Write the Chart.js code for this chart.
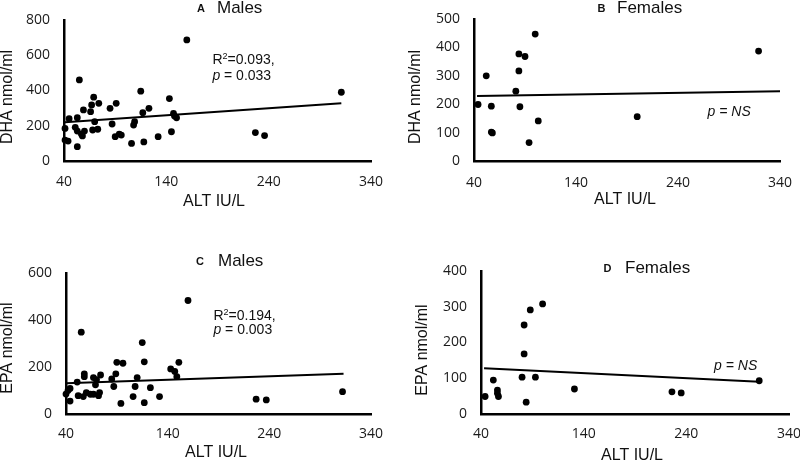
<!DOCTYPE html>
<html>
<head>
<meta charset="utf-8">
<script src="https://cdn.jsdelivr.net/npm/chart.js@4"></script>
<style>
  html, body { margin: 0; padding: 0; background: #fff; }
  #wrap { position: relative; width: 800px; height: 460px; background: #fff; overflow: hidden; }
  canvas { position: absolute; }
</style>
</head>
<body>
<div id="wrap">
  <canvas id="cA" width="400" height="230" style="left:0;top:0"></canvas>
  <canvas id="cB" width="400" height="230" style="left:400px;top:0"></canvas>
  <canvas id="cC" width="400" height="230" style="left:0;top:230px"></canvas>
  <canvas id="cD" width="400" height="230" style="left:400px;top:230px"></canvas>
</div>
<script>
// ---------- DATA ----------
// Panel A: Males, DHA vs ALT
const maleDhaALT = [41,41,44,45,51,53,53,53,55,57,58,59,60,66,67,68,69,70,73,74,85,87,90,91,94,96,106,108,109,115,117,118,123,132,143,145,147,148,150,160,227,236,311];
const maleDHA    = [185,119,113,240,191,170,246,81,460,153,142,290,170,280,318,176,362,223,180,327,299,210,138,327,153,147,100,204,223,396,274,108,299,138,354,166,270,255,245,687,161,144,390];
const maleDhaTrendALT = [41, 311];
const maleDhaTrend    = [220, 328];

// Panel B: Females, DHA vs ALT
const femaleDhaALT = [44,52,57,57,58,81,84,84,85,90,94,100,103,200,319];
const femaleDHA    = [199,300,193,102,99,246,317,377,191,368,65,447,141,156,387];
const femaleDhaTrendALT = [43, 340];
const femaleDhaTrend    = [229, 246];

// Panel C: Males, EPA vs ALT
const maleEpaALT = [40,42,44,44,51,52,55,57,58,58,60,64,67,67,69,70,72,73,74,85,87,89,90,94,96,106,108,110,115,117,117,123,132,143,147,149,151,160,227,237,312];
const maleEPA    = [85,100,109,55,136,78,348,74,171,159,91,84,155,84,124,146,78,91,166,149,117,171,220,45,216,74,117,155,304,222,48,112,74,192,181,159,220,483,63,60,95];
const maleEpaTrendALT = [40, 313];
const maleEpaTrend    = [131, 171];

// Panel D: Females, EPA vs ALT
const femaleEpaALT = [44,52,56,56,57,80,82,82,84,88,93,100,131,226,235,311];
const femaleEPA    = [49,95,67,58,49,103,168,249,33,291,103,308,70,62,59,93];
const femaleEpaTrendALT = [43, 311];
const femaleEpaTrend    = [128, 90];

// Axis ranges / ticks
const xTicks = [40, 140, 240, 340];
const yMaxA = 800, yStepA = 200;
const yMaxB = 500, yStepB = 100;
const yMaxC = 600, yStepC = 200;
const yMaxD = 400, yStepD = 100;

// Text
const xAxisTitle = 'ALT IU/L';
const panelLetters = ['A', 'B', 'C', 'D'];
const panelTitles = ['Males', 'Females', 'Males', 'Females'];
const yTitles = ['DHA nmol/ml', 'DHA nmol/ml', 'EPA nmol/ml', 'EPA nmol/ml'];

// ---------- HELPERS ----------
const FONT = '"Liberation Sans", Arial, sans-serif';
const TICKFONT = '"Open Sans", "Liberation Sans", sans-serif';
const INK = '#111';

function pts(xs, ys) { return xs.map((x, i) => ({ x: x, y: ys[i] })); }

const panelText = {
  id: 'panelText',
  afterDraw(chart, args, o) {
    const ctx = chart.ctx;
    ctx.save();
    ctx.fillStyle = INK;
    ctx.textBaseline = 'middle';
    // panel letter
    ctx.font = 'bold 11px ' + FONT;
    ctx.textAlign = 'center';
    ctx.fillText(o.letter, o.letterX, o.titleY + 1);
    // panel title
    ctx.font = '17px ' + FONT;
    ctx.textAlign = 'left';
    ctx.fillText(o.title, o.titleX, o.titleY);
    // x title
    ctx.font = '16px ' + FONT;
    ctx.textAlign = 'center';
    ctx.fillText(o.xTitle, o.xTitleX, o.xTitleY);
    // y title
    ctx.save();
    ctx.translate(o.yTitleX, o.yTitleY);
    ctx.rotate(-Math.PI / 2);
    ctx.fillText(o.yTitle, 0, 0);
    ctx.restore();
    // annotations at data positions
    const xs = chart.scales.x, ys = chart.scales.y;
    ctx.textAlign = 'left';
    ctx.textBaseline = 'alphabetic';
    (o.notes || []).forEach(n => {
      let px = xs.getPixelForValue(n.x);
      const py = ys.getPixelForValue(n.y);
      n.parts.forEach(p => {
        ctx.font = p.f;
        ctx.fillText(p.t, px, py + (p.dy || 0));
        px += ctx.measureText(p.t).width;
      });
    });
    ctx.restore();
  }
};

const N = '14px ' + FONT, I = 'italic 14px ' + FONT, S = '9px ' + FONT;

function makePanel(id, cfg) {
  const area = cfg.area;
  new Chart(document.getElementById(id), {
    type: 'scatter',
    data: {
      datasets: [
        {
          data: pts(cfg.xs, cfg.ys),
          backgroundColor: '#000',
          borderColor: '#000',
          pointRadius: 3.4,
          pointHoverRadius: 3.4,
          borderWidth: 0,
          clip: false
        },
        {
          data: pts(cfg.tx, cfg.ty),
          showLine: true,
          borderColor: '#000',
          borderWidth: 2,
          pointRadius: 0,
          pointHoverRadius: 0,
          fill: false,
          clip: false
        }
      ]
    },
    options: {
      responsive: false,
      animation: false,
      events: [],
      layout: { padding: { left: 0, top: area.top, right: 400 - area.right, bottom: 0 } },
      plugins: {
        legend: { display: false },
        tooltip: { enabled: false },
        title: { display: false },
        panelText: cfg.text
      },
      scales: {
        x: {
          type: 'linear',
          min: xTicks[0],
          max: xTicks[xTicks.length - 1],
          afterBuildTicks: s => { s.ticks = xTicks.map(v => ({ value: v })); },
          afterFit: s => { s.height = 230 - area.bottom; s.paddingLeft = 0; s.paddingRight = 0; },
          grid: { display: false, drawTicks: false },
          border: { display: true, color: '#000', width: 2.5 },
          ticks: { padding: cfg.xTickPad, color: '#1a1a1a', font: { family: TICKFONT, size: 14 }, maxRotation: 0 }
        },
        y: {
          type: 'linear',
          min: 0,
          max: cfg.yMax,
          ticks: { stepSize: cfg.yStep, padding: 14, color: '#1a1a1a', font: { family: TICKFONT, size: 14 } },
          afterFit: s => { s.width = area.left; s.paddingTop = 0; s.paddingBottom = 0; },
          grid: { display: false, drawTicks: false },
          border: { display: true, color: '#000', width: 2.5 }
        }
      }
    },
    plugins: [panelText]
  });
}

makePanel('cA', {
  xs: maleDhaALT, ys: maleDHA, tx: maleDhaTrendALT, ty: maleDhaTrend,
  yMax: yMaxA, yStep: yStepA, xTickPad: 13,
  area: { left: 64, right: 371, top: 20, bottom: 161 },
  text: {
    letter: panelLetters[0], letterX: 201, title: panelTitles[0], titleX: 217, titleY: 8,
    xTitle: xAxisTitle, xTitleX: 214, xTitleY: 202,
    yTitle: yTitles[0], yTitleX: 8, yTitleY: 97,
    notes: [
      { x: 185, y: 550, parts: [{ t: 'R', f: N }, { t: '2', f: S, dy: -5 }, { t: '=0.093,', f: N }] },
      { x: 185, y: 460, parts: [{ t: 'p', f: I }, { t: ' = 0.033', f: N }] }
    ]
  }
});

makePanel('cB', {
  xs: femaleDhaALT, ys: femaleDHA, tx: femaleDhaTrendALT, ty: femaleDhaTrend,
  yMax: yMaxB, yStep: yStepB, xTickPad: 14,
  area: { left: 74, right: 380, top: 19, bottom: 161 },
  text: {
    letter: panelLetters[1], letterX: 201.5, title: panelTitles[1], titleX: 217, titleY: 8,
    xTitle: xAxisTitle, xTitleX: 225, xTitleY: 200,
    yTitle: yTitles[1], yTitleX: 16, yTitleY: 97,
    notes: [
      { x: 269, y: 159, parts: [{ t: 'p = NS', f: I }] }
    ]
  }
});

makePanel('cC', {
  xs: maleEpaALT, ys: maleEPA, tx: maleEpaTrendALT, ty: maleEpaTrend,
  yMax: yMaxC, yStep: yStepC, xTickPad: 12,
  area: { left: 66, right: 371, top: 43, bottom: 184 },
  text: {
    letter: panelLetters[2], letterX: 200, title: panelTitles[2], titleX: 218, titleY: 31,
    xTitle: xAxisTitle, xTitleX: 216, xTitleY: 223,
    yTitle: yTitles[2], yTitleX: 8, yTitleY: 118,
    notes: [
      { x: 185, y: 401, parts: [{ t: 'R', f: N }, { t: '2', f: S, dy: -5 }, { t: '=0.194,', f: N }] },
      { x: 185, y: 340, parts: [{ t: 'p', f: I }, { t: ' = 0.003', f: N }] }
    ]
  }
});

makePanel('cD', {
  xs: femaleEpaALT, ys: femaleEPA, tx: femaleEpaTrendALT, ty: femaleEpaTrend,
  yMax: yMaxD, yStep: yStepD, xTickPad: 12,
  area: { left: 81, right: 389, top: 41, bottom: 184 },
  text: {
    letter: panelLetters[3], letterX: 207.5, title: panelTitles[3], titleX: 225, titleY: 38,
    xTitle: xAxisTitle, xTitleX: 232, xTitleY: 226,
    yTitle: yTitles[3], yTitleX: 23, yTitleY: 120,
    notes: [
      { x: 267, y: 123, parts: [{ t: 'p = NS', f: I }] }
    ]
  }
});
</script>
</body>
</html>
